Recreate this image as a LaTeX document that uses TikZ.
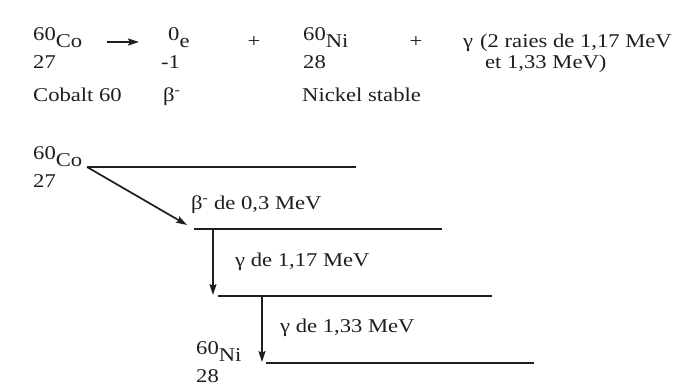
\documentclass[tikz,border=0pt]{standalone}
\usepackage{fontspec}
\setmainfont[FakeStretch=1.16]{Liberation Serif}
\definecolor{inkgray}{RGB}{30, 30, 30}
\usetikzlibrary{arrows.meta, positioning}
\newcommand{\iso}[2]{\raisebox{7pt}{#1}#2}

\begin{document}
\begin{tikzpicture}[x=1pt, y=-1pt,
  txt/.style={anchor=base west, inner sep=0pt, text=inkgray, font=\fontsize{19.5}{21}\selectfont},
  level/.style={draw=inkgray, line width=1.8pt},
  decay/.style={draw=inkgray, line width=1.7pt, -{Stealth[length=11pt, width=7pt, inset=2pt]}}]

  \fill[white] (0,0) rectangle (691,387);
  \useasboundingbox (0,0) rectangle (691,387);

  \node[txt] (co) at (33,48) {\iso{60}{Co}};
  \node[txt] (coz) at (33,69) {27};
  \coordinate (eqa) at (107,42);
  \coordinate (eqb) at (139,42);
  \draw[decay, line width=2.2pt] (eqa) -- (eqb);
  \node[txt] (el) at (168,48) {\iso{0}{e}};
  \node[txt] (elz) at (161,69) {-1};
  \node[txt, anchor=base] (plusa) at (254,48) {+};
  \node[txt] (ni) at (303,48) {\iso{60}{Ni}};
  \node[txt] (niz) at (303,69) {28};
  \node[txt, anchor=base] (plusb) at (416,48) {+};
  \node[txt] (gam) at (463,48) {γ};
  \node[txt] (raies) at (480,48) {(2 raies de 1,17 MeV};
  \node[txt] (raiesb) at (485,69) {et 1,33 MeV)};
  \node[txt] (cobalt) at (33,102) {Cobalt 60};
  \node[txt] (beta) at (163,102) {β\textsuperscript{-}};
  \node[txt] (nickel) at (302,102) {Nickel stable};

  \node[txt] (coa) at (33,167) {\iso{60}{Co}};
  \node[txt] (coaz) at (33,188) {27};
  \node[txt] (nia) at (196,362) {\iso{60}{Ni}};
  \node[txt] (niaz) at (196,382) {28};

  \coordinate (l0a) at (87,167);  \coordinate (l0b) at (356,167);
  \coordinate (l1a) at (194,229); \coordinate (l1b) at (442,229);
  \coordinate (l2a) at (218,296); \coordinate (l2b) at (492,296);
  \coordinate (l3a) at (266,363); \coordinate (l3b) at (534,363);
  \draw[level] (l0a) -- (l0b);
  \draw[level] (l1a) -- (l1b);
  \draw[level] (l2a) -- (l2b);
  \draw[level] (l3a) -- (l3b);

  \coordinate (b1) at (187,225);
  \coordinate (g1a) at (213,229); \coordinate (g1b) at (213,295);
  \coordinate (g2a) at (262,296); \coordinate (g2b) at (262,362);
  \draw[decay] (l0a) -- (b1);
  \draw[decay] (g1a) -- (g1b);
  \draw[decay] (g2a) -- (g2b);

  \node[txt] (lbeta) at (191,210) {β\textsuperscript{-} de 0,3 MeV};
  \node[txt] (lgama) at (235,267) {γ de 1,17 MeV};
  \node[txt] (lgamb) at (280,333) {γ de 1,33 MeV};
\end{tikzpicture}
\end{document}
